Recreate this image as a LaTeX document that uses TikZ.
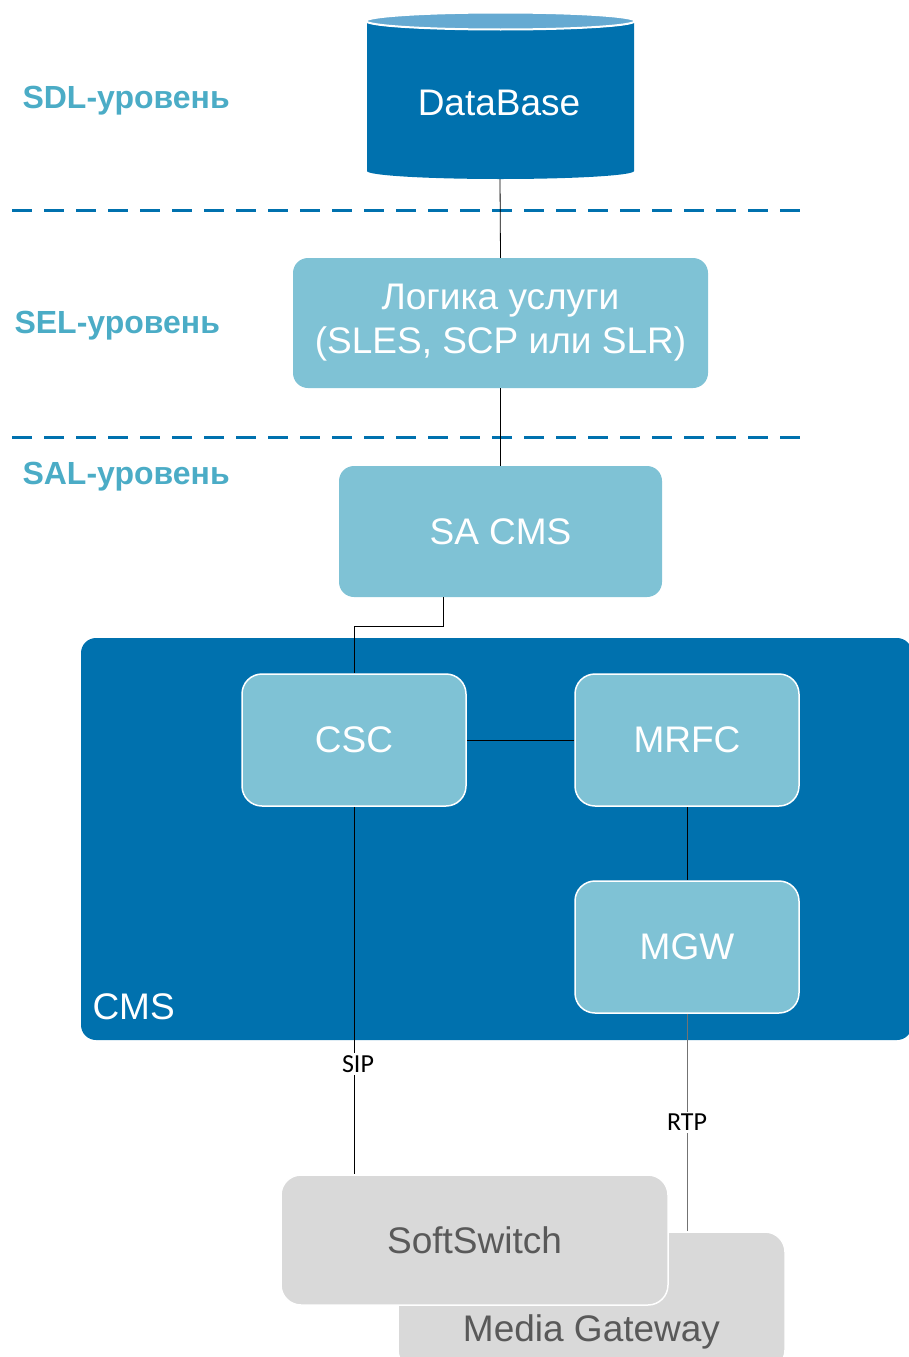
\documentclass[tikz,border=0pt]{standalone}
\usepackage{fontspec}
\setmainfont{Liberation Sans}
\newfontfamily\protofont{Carlito}
\usepackage{tikz}
\usetikzlibrary{positioning, calc}
\definecolor{cmsblue}{RGB}{0,113,174}
\definecolor{dbtop}{RGB}{102,170,210}
\definecolor{boxblue}{RGB}{127,194,213}
\definecolor{levelblue}{RGB}{75,172,198}
\definecolor{extgray}{RGB}{217,217,217}
\definecolor{exttext}{RGB}{89,89,89}

\begin{document}
\begin{tikzpicture}[x=1pt, y=-1pt,
	level/.style={anchor=west, levelblue, font=\fontsize{32}{36}\selectfont\bfseries},
	layerline/.style={cmsblue, line width=3pt, dash pattern=on 20pt off 12pt},
	bigtext/.style={font=\fontsize{37}{44}\selectfont},
	svcbox/.style={bigtext, fill=boxblue, text=white, rounded corners=15pt, inner sep=0pt, align=center},
	elembox/.style={svcbox, draw=white, line width=1.5pt, rounded corners=20pt, minimum width=224pt, minimum height=132pt},
	extbox/.style={bigtext, fill=extgray, text=exttext, draw=white, line width=1.5pt, rounded corners=20pt, inner sep=0pt, minimum width=387pt},
	link/.style={black, line width=0.8pt},
	proto/.style={fill=white, inner sep=2pt, text=black, font=\protofont\fontsize{26}{28}\selectfont}]
	\clip (0,0) rectangle (909,1357);
	%% levels
	\node[level] (sdl) at (19,101) {SDL-уровень};
	\node[level] (sel) at (11,326) {SEL-уровень};
	\node[level] (sal) at (19,477) {SAL-уровень};
	\draw[layerline] (12,210) -- (800,210);
	\draw[layerline] (12,437) -- (800,437);
	%% database
	\fill[cmsblue] (367,22) -- (367,171) arc (180:0:133.5 and 8) -- (634,22) arc (0:180:133.5 and 8) -- cycle;
	\draw[fill=dbtop, draw=white, line width=2pt] (500.5,21) ellipse (134.5 and 8.5);
	\node[bigtext, text=white] (db) at (499,103) {DataBase};
	\coordinate (dbbot) at (500,179);
	%% service logic
	\node[svcbox, minimum width=415pt, minimum height=130pt] (logic) at (500.5,323) {Логика услуги\\(SLES, SCP или SLR)};
	\node[svcbox, minimum width=323pt, minimum height=131pt] (sacms) at (500.5,531.5) {SA CMS};
	%% CMS
	\fill[cmsblue, rounded corners=15pt] (81,638) rectangle (912,1040);
	\node[bigtext, text=white, anchor=west] (cms) at (89,1007) {CMS};
	\node[elembox] (csc) at (354,740) {CSC};
	\node[elembox] (mrfc) at (687,740) {MRFC};
	\node[elembox] (mgw) at (687,947) {MGW};
	%% external
	\node[extbox, minimum height=138pt, text depth=0pt] (mediagw) at (591.5,1301) {\raisebox{-40pt}{Media Gateway}};
	\node[extbox, minimum height=130pt] (softsw) at (474.5,1240) {SoftSwitch};
	%% links
	\draw[link] (dbbot) -- (logic.north);
	\draw[link] (logic.south) -- (sacms.north);
	\draw[link] ([xshift=-57.5pt]sacms.south) -- ++(0,29) -| (csc.north);
	\draw[link] (csc.east) -- (mrfc.west);
	\draw[link] (mrfc.south) -- (mgw.south |- mgw.north);
	\draw[link] (csc.south) -- node[proto, pos=0.7, xshift=4pt] {SIP} (csc.south |- softsw.north);
	\draw[link, black!55] (mgw.south) -- node[proto, pos=0.5] {RTP} (mgw.south |- mediagw.north);
\end{tikzpicture}
\end{document}
